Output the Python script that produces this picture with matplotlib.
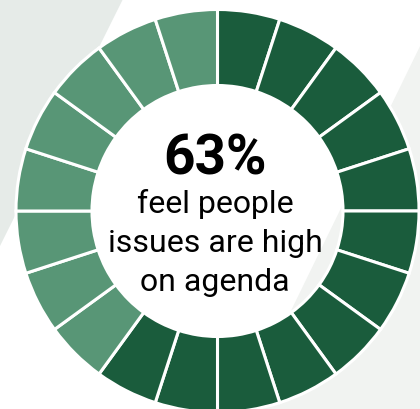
import matplotlib
matplotlib.use("Agg")
import matplotlib.pyplot as plt
from matplotlib.patches import Polygon

# Data
pct_value = 63
n_segments = 20
headline = "63%"
caption_lines = ["feel people", "issues are high", "on agenda"]

dark = "#1a5c3c"
light = "#589676"

W, H = 420, 410
fig = plt.figure(figsize=(W / 100, H / 100), dpi=100)
ax = fig.add_axes([0, 0, 1, 1])
ax.set_xlim(0, W)
ax.set_ylim(0, H)
ax.axis("off")
fig.patch.set_facecolor("white")

def py(y):
    return H - y

# background bands
ax.add_patch(Polygon([(0, py(0)), (123, py(0)), (0, py(247))], closed=True,
                     facecolor="#e6ebe8", edgecolor="none", zorder=0))
ax.add_patch(Polygon([(443, py(0)), (W, py(0)), (W, py(H)), (243, py(H))], closed=True,
                     facecolor="#f1f3f1", edgecolor="none", zorder=0))

filled = int(pct_value * n_segments / 100)
values = [1] * n_segments
colors = [dark if i < filled else light for i in range(n_segments)]

cx, cy = 217.5, py(212)
R = 201.5
ax.pie(values, colors=colors, startangle=90, counterclock=False,
       center=(cx, cy), radius=R,
       wedgeprops=dict(width=76, edgecolor="white", linewidth=2.2),
       frame=True)
ax.set_xlim(0, W)
ax.set_ylim(0, H)
ax.set_aspect("auto")
ax.axis("off")

tx = 215
ax.text(tx, py(175), headline, fontsize=39.5, fontweight="bold", family="Roboto",
        ha="center", va="baseline", color="black")
baselines = [213.5, 252.5, 291]
for line, b in zip(caption_lines, baselines):
    ax.text(tx, py(b), line, fontsize=23, family="Roboto",
            ha="center", va="baseline", color="black")

fig.savefig("out.png", dpi=100)
